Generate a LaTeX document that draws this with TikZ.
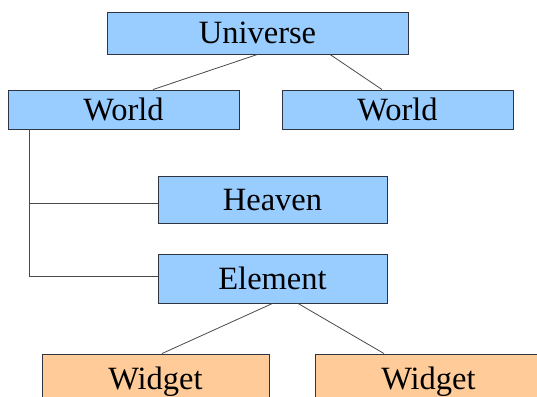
\documentclass[tikz,border=0pt]{standalone}
\usepackage{fontspec}
\setmainfont{Liberation Serif}
\definecolor{skyfill}{HTML}{99CCFF}
\definecolor{peachfill}{HTML}{FFCC99}
\definecolor{edgecol}{HTML}{2F3442}
\definecolor{wirecol}{HTML}{4A4A4A}
\begin{document}
\begin{tikzpicture}[x=1pt,y=-1pt,
  box/.style={rectangle, draw=edgecol, line width=0.9pt, inner sep=0pt,
    font=\fontsize{32.5}{38}\selectfont, text height=21.5pt, text depth=0pt},
  bluebox/.style={box, fill=skyfill},
  orangebox/.style={box, fill=peachfill},
  wire/.style={draw=wirecol, line width=0.8pt}]
\useasboundingbox (0,0) rectangle (537,396);
\fill[white] (0,0) rectangle (537,396);

% class hierarchy boxes
\node[bluebox, minimum width=301pt, minimum height=42pt] (universe) at (257.5,33) {Universe};
\node[bluebox, minimum width=231pt, minimum height=39pt] (worldL) at (123.5,109.5) {World};
\node[bluebox, minimum width=231pt, minimum height=39pt] (worldR) at (397.5,109.5) {World};
\node[bluebox, minimum width=229pt, minimum height=47pt] (heaven) at (272.5,199.5) {Heaven};
\node[bluebox, minimum width=229pt, minimum height=49pt] (element) at (272.5,278.5) {Element};
\node[orangebox, minimum width=227pt, minimum height=49pt] (widgetL) at (155.5,378.5) {Widget};
\node[orangebox, minimum width=227pt, minimum height=49pt] (widgetR) at (428.5,378.5) {Widget};

% connectors
\draw[wire] (universe.south) -- ([xshift=29.5pt]worldL.north);
\draw[wire] ([xshift=72.5pt]universe.south) -- ([xshift=-15.5pt]worldR.north);
\draw[wire] ([xshift=-94.5pt]worldL.south) |- ([yshift=-3.5pt]heaven.west);
\draw[wire] ([xshift=-94.5pt]worldL.south) |- ([yshift=2pt]element.west);
\draw[wire] (element.south) -- ([xshift=6.5pt]widgetL.north);
\draw[wire] ([xshift=25.5pt]element.south) -- ([xshift=-44.5pt]widgetR.north);
\end{tikzpicture}
\end{document}
